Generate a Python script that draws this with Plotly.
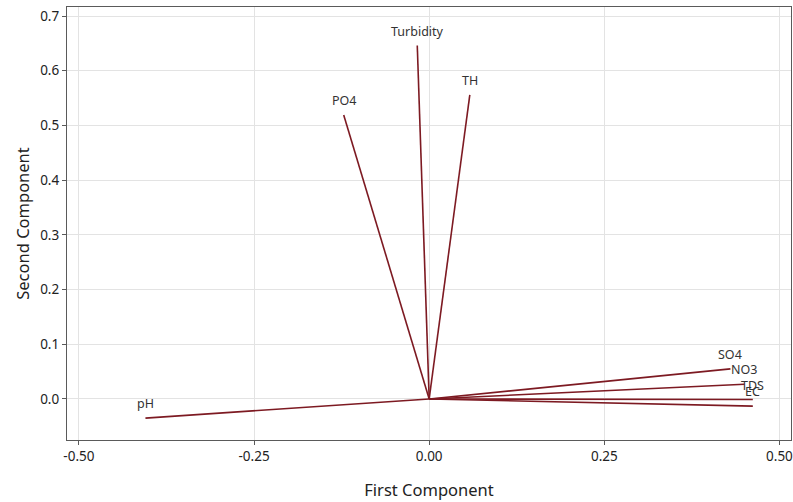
import plotly.graph_objects as go

# Loadings (first and second principal components)
variables = ["Turbidity", "TH", "PO4", "pH", "SO4", "NO3", "TDS", "EC"]
pc1 = [-0.017, 0.058, -0.122, -0.405, 0.430, 0.450, 0.462, 0.462]
pc2 = [0.646, 0.556, 0.519, -0.035, 0.055, 0.027, -0.001, -0.013]

x_ticks = [-0.50, -0.25, 0.00, 0.25, 0.50]
x_tick_labels = ["-0.50", "-0.25", "0.00", "0.25", "0.50"]
y_ticks = [0.0, 0.1, 0.2, 0.3, 0.4, 0.5, 0.6, 0.7]
y_tick_labels = ["0.0", "0.1", "0.2", "0.3", "0.4", "0.5", "0.6", "0.7"]

FONT = "Noto Sans, Open Sans, sans-serif"
LINE_COLOR = "#7d1a22"

lx, ly = [], []
for a, b in zip(pc1, pc2):
    lx += [0, a, None]
    ly += [0, b, None]

fig = go.Figure()
fig.add_trace(go.Scatter(x=lx, y=ly, mode="lines",
                         line=dict(color=LINE_COLOR, width=1.6),
                         hoverinfo="skip", showlegend=False))

for name, a, b in zip(variables, pc1, pc2):
    fig.add_annotation(x=a, y=b, text=name, showarrow=False,
                       xanchor="center", yanchor="bottom", yshift=4,
                       font=dict(family=FONT, size=12.5, color="#333333"))

axis_common = dict(showline=True, linecolor="#5a5a5a", linewidth=1.2, mirror=True,
                   showgrid=True, gridcolor="#e3e3e3", gridwidth=1,
                   zeroline=False, ticks="outside", ticklen=4, tickcolor="#5a5a5a",
                   automargin=False, ticklabeloverflow="allow",
                   tickfont=dict(family=FONT, size=13.5, color="#222222"))

fig.update_xaxes(range=[-0.517, 0.5165], tickvals=x_ticks, ticktext=x_tick_labels,
                 title=dict(text="First Component", font=dict(family=FONT, size=16.5, color="#222222"),
                            standoff=20),
                 **axis_common)
fig.update_yaxes(range=[-0.075, 0.7165], tickvals=y_ticks, ticktext=y_tick_labels,
                 title=dict(text="Second Component", font=dict(family=FONT, size=16.5, color="#222222"),
                            standoff=6),
                 **axis_common)

fig.update_layout(width=793, height=502,
                  margin=dict(l=67, r=2, t=7, b=62),
                  paper_bgcolor="white", plot_bgcolor="white",
                  font=dict(family=FONT))

fig.write_html("out.html", config={"displayModeBar": False},
               post_script="document.body.style.margin='0px';document.body.style.padding='0px';")
